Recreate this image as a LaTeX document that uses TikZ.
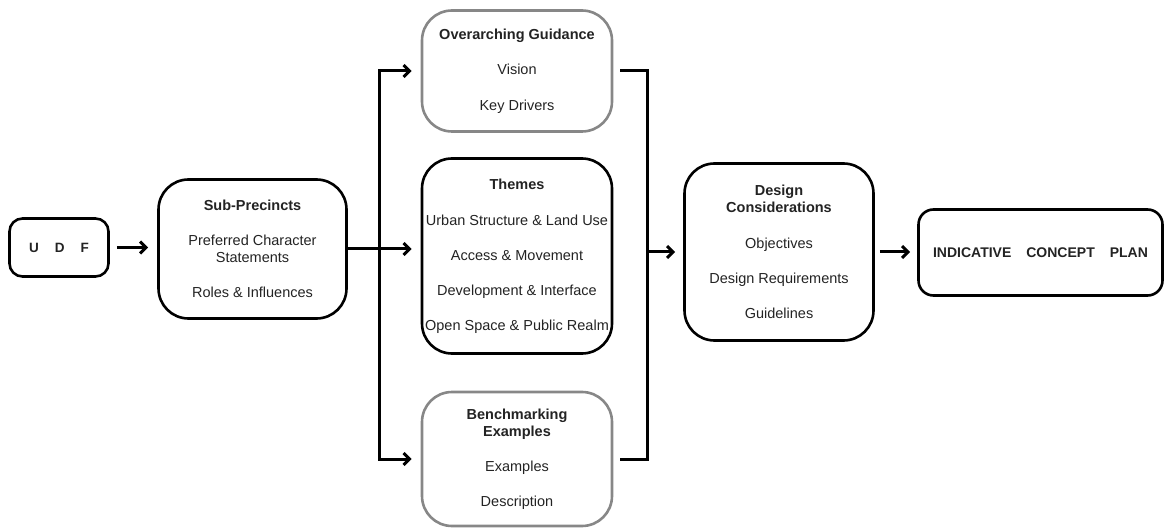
\documentclass[tikz,border=0pt]{standalone}
\usepackage{fontspec}
\setmainfont{Liberation Sans}
\usepackage{tikz}
\usetikzlibrary{arrows.meta}
\definecolor{frame}{RGB}{135,135,135}
\definecolor{ink}{RGB}{35,35,35}
\tikzset{%
    box/.style={%
        draw=black, line width=2.6pt, rounded corners=30pt,
        align=center, inner sep=0pt, text=ink,
        font=\fontsize{14.5}{17}\selectfont
    },
    greybox/.style={box, draw=frame},
    smallbox/.style={box, rounded corners=13pt},
    flow/.style={line width=3pt, -{Straight Barb[length=6pt,width=12pt]}},
    fork/.style={line width=3pt,
        {Straight Barb[length=6pt,width=12pt]}-{Straight Barb[length=6pt,width=12pt]}}
}

\begin{document}
\begin{tikzpicture}[x=1pt,y=-1pt]
    \useasboundingbox (0,0) rectangle (1167,529);
%-----------------------------------------------
    \node[smallbox, minimum width=99pt, minimum height=58pt] (udf) at (59,247.5)
        {\fontsize{13.5}{16}\selectfont\textbf{U\hspace{16pt}D\hspace{16pt}F}};
    \node[box, minimum width=188pt, minimum height=139pt] (sub) at (252.5,249)
        {\textbf{Sub-Precincts}\\[18pt]Preferred Character\\Statements\\[18pt]Roles \& Influences};
    \node[greybox, minimum width=190pt, minimum height=121pt] (guide) at (517,71)
        {\textbf{Overarching Guidance}\\[18.5pt]Vision\\[18.5pt]Key Drivers};
    \node[box, minimum width=190pt, minimum height=195pt] (themes) at (517,256)
        {\textbf{Themes}\\[19pt]Urban Structure \& Land Use\\[18pt]Access \& Movement\\[18pt]%
         Development \& Interface\\[18pt]Open Space \& Public Realm};
    \node[greybox, minimum width=190pt, minimum height=134pt] (bench) at (517,459)
        {\textbf{Benchmarking}\\\textbf{Examples}\\[18pt]Examples\\[18pt]Description};
    \node[box, minimum width=189pt, minimum height=177pt] (design) at (779,252)
        {\textbf{Design}\\\textbf{Considerations}\\[19pt]Objectives\\[18pt]Design Requirements\\[18pt]Guidelines};
    \node[smallbox, minimum width=244pt, minimum height=86pt, rounded corners=15pt] (plan) at (1040.5,252.5)
        {\fontsize{14}{16}\selectfont\textbf{INDICATIVE\hspace{15pt}CONCEPT\hspace{15pt}PLAN}};
%-----------------------------------------------
    \coordinate (split) at (379,0);
    \coordinate (join) at (647,0);
%-----------------------------------------------
    \draw[flow, shorten <=7pt, shorten >=9pt] (udf.east) -- (udf.east -| sub.west);
    \draw[flow, shorten >=9pt] (sub.east) -- (sub.east -| themes.west);
    \draw[fork, shorten <=9pt, shorten >=9pt] (guide.west) -- (guide.west -| split)
        -- (bench.west -| split) -- (bench.west);
    \draw[line width=3pt, shorten <=7pt, shorten >=7pt] (guide.east) -- (guide.east -| join)
        -- (bench.east -| join) -- (bench.east);
    \draw[flow, shorten >=8pt] (join |- design.west) -- (design.west);
    \draw[flow, shorten <=5pt, shorten >=7pt] (design.east) -- (design.east -| plan.west);
\end{tikzpicture}
\end{document}
